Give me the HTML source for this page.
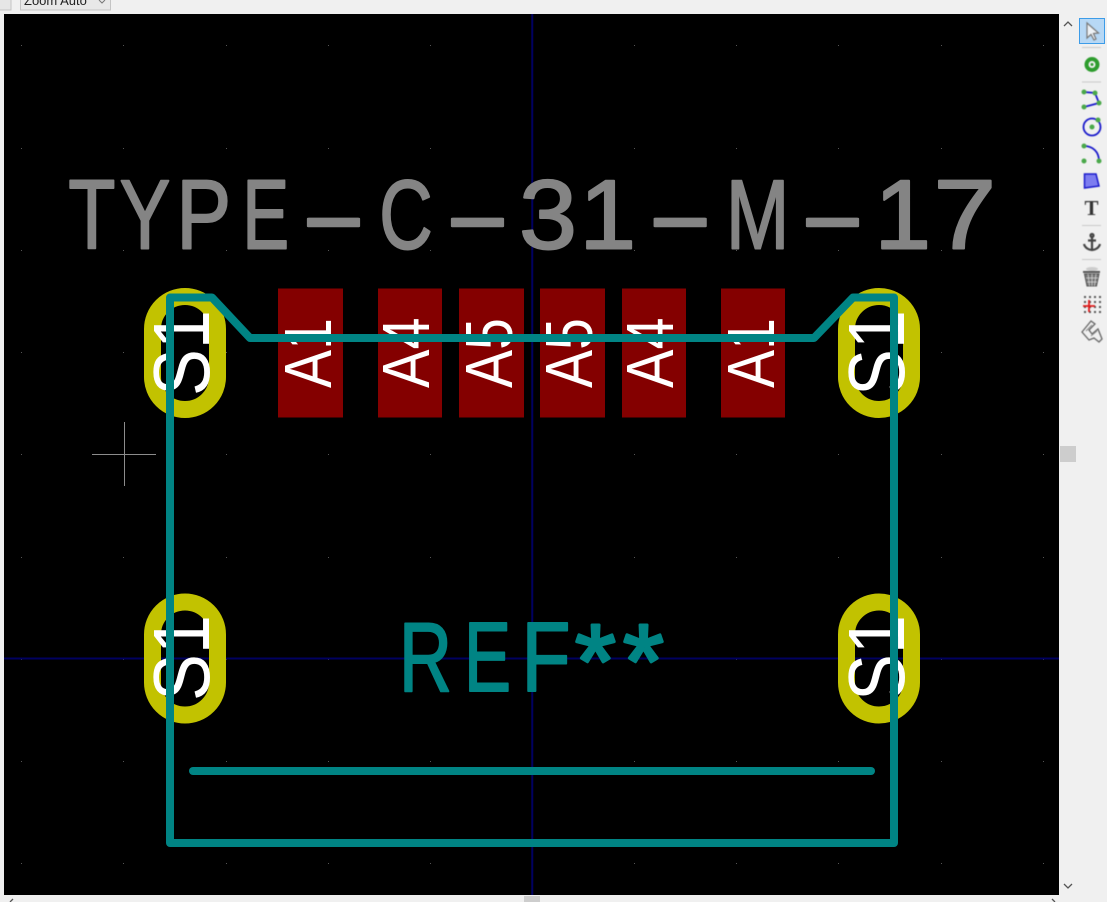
<!DOCTYPE html>
<html><head><meta charset="utf-8"><style>
html,body{margin:0;padding:0;background:#f0f0f0;width:1107px;height:902px;overflow:hidden}
svg{display:block}
.t{font-family:"Liberation Sans",sans-serif}
</style></head><body>
<svg width="1107" height="902" viewBox="0 0 1107 902" xmlns="http://www.w3.org/2000/svg">
<rect width="1107" height="902" fill="#f0f0f0"/>
<!-- top bar -->
<rect x="-4" y="-10" width="15" height="20" fill="#e6e6e6" stroke="#c4c4c4"/>
<rect x="20.500" y="-10" width="90" height="20" fill="#e8e8e8" stroke="#c4c4c4"/>
<text class="t" x="24" y="5" font-size="13" fill="#222">Zoom Auto</text>
<path d="M99 0l3 3 3-3" fill="none" stroke="#777"/>
<!-- canvas -->
<rect x="4" y="14" width="1055" height="881" fill="#000"/>
<!-- grid dots -->
<g fill="#555">
<path id="g" d="M21 45h1v1h-1zM123 45h1v1h-1zM226 45h1v1h-1zM328 45h1v1h-1zM430 45h1v1h-1zM634 45h1v1h-1zM736 45h1v1h-1zM838 45h1v1h-1zM941 45h1v1h-1zM1043 45h1v1h-1z"/>
<use href="#g" y="103"/><use href="#g" y="205"/><use href="#g" y="307"/><use href="#g" y="409"/><use href="#g" y="512"/><use href="#g" y="614"/><use href="#g" y="716"/><use href="#g" y="818"/>
</g>
<!-- axes -->
<rect x="531.250" y="14" width="2" height="881" fill="#000060"/>
<rect x="4" y="657.500" width="1055" height="2" fill="#000060"/>
<!-- cursor -->
<path d="M92 454.500H156M124.500 422V486" stroke="#8c8c8c" stroke-width="1"/>
<!-- value text -->
<g class="t" font-size="98" fill="#848484" stroke="#848484" stroke-width="2" stroke-linejoin="round">
<text x="68.400" y="248.500" textLength="47" lengthAdjust="spacingAndGlyphs">T</text>
<text x="119.600" y="248.500" textLength="50.700" lengthAdjust="spacingAndGlyphs">Y</text>
<text x="176.400" y="248.500" textLength="54.700" lengthAdjust="spacingAndGlyphs">P</text>
<text x="242.400" y="248.500" textLength="46.700" lengthAdjust="spacingAndGlyphs">E</text>
<text x="300" y="248.500" textLength="67" lengthAdjust="spacingAndGlyphs">-</text>
<text x="379.300" y="248.500" textLength="53.400" lengthAdjust="spacingAndGlyphs">C</text>
<text x="444" y="248.500" textLength="67" lengthAdjust="spacingAndGlyphs">-</text>
<text x="519" y="248.500" textLength="58" lengthAdjust="spacingAndGlyphs">3</text>
<text x="579.400" y="248.500" textLength="56.700" lengthAdjust="spacingAndGlyphs">1</text>
<text x="646.700" y="248.500" textLength="67" lengthAdjust="spacingAndGlyphs">-</text>
<text x="726" y="248.500" textLength="63.300" lengthAdjust="spacingAndGlyphs">M</text>
<text x="799" y="248.500" textLength="67" lengthAdjust="spacingAndGlyphs">-</text>
<text x="874.400" y="248.500" textLength="56.700" lengthAdjust="spacingAndGlyphs">1</text>
<text x="933.400" y="248.500" textLength="62.800" lengthAdjust="spacingAndGlyphs">7</text>
</g>
<!-- SMD pads -->
<g fill="#840000">
<rect x="278" y="288.500" width="65" height="129"/>
<rect x="378" y="288.500" width="64" height="129"/>
<rect x="459" y="288.500" width="65" height="129"/>
<rect x="540" y="288.500" width="65" height="129"/>
<rect x="622" y="288.500" width="64" height="129"/>
<rect x="721" y="288.500" width="64" height="129"/>
</g>
<g class="t" font-size="67" fill="#fff">
<text transform="translate(331 388) rotate(-90)" textLength="70" lengthAdjust="spacingAndGlyphs">A1</text>
<text transform="translate(429 388) rotate(-90)" textLength="70.500" lengthAdjust="spacingAndGlyphs">A4</text>
<text transform="translate(512 388) rotate(-90)" textLength="70" lengthAdjust="spacingAndGlyphs">A5</text>
<text transform="translate(592 388) rotate(-90)" textLength="70" lengthAdjust="spacingAndGlyphs">A5</text>
<text transform="translate(673 388) rotate(-90)" textLength="70.500" lengthAdjust="spacingAndGlyphs">A4</text>
<text transform="translate(774 388) rotate(-90)" textLength="70" lengthAdjust="spacingAndGlyphs">A1</text>
</g>
<!-- oval pads -->
<g fill="none" stroke="#c2c200" stroke-width="17">
<rect x="152.500" y="296.500" width="65" height="113" rx="32.500"/>
<rect x="846.500" y="296.500" width="65" height="113" rx="32.500"/>
<rect x="152.500" y="602" width="65" height="113" rx="32.500"/>
<rect x="846.500" y="602" width="65" height="113" rx="32.500"/>
</g>
<g class="t" font-size="80" fill="#fff">
<text transform="translate(209 396) rotate(-90)" textLength="86" lengthAdjust="spacingAndGlyphs">S1</text>
<text transform="translate(904 396) rotate(-90)" textLength="86" lengthAdjust="spacingAndGlyphs">S1</text>
<text transform="translate(209 701) rotate(-90)" textLength="86" lengthAdjust="spacingAndGlyphs">S1</text>
<text transform="translate(904 701) rotate(-90)" textLength="86" lengthAdjust="spacingAndGlyphs">S1</text>
</g>
<!-- silkscreen -->
<g fill="none" stroke="#008484" stroke-width="8" stroke-linecap="round" stroke-linejoin="round">
<path d="M250 338L212 297.500H170V843H894V297.500H853L814 338Z"/>
<path d="M193 771H871"/>
</g>
<!-- reference -->
<g class="t" font-size="98" fill="#008484" stroke="#008484" stroke-width="2" stroke-linejoin="round">
<text x="399" y="691" textLength="53" lengthAdjust="spacingAndGlyphs">R</text>
<text x="464" y="691" textLength="47" lengthAdjust="spacingAndGlyphs">E</text>
<text x="521.500" y="691" textLength="49" lengthAdjust="spacingAndGlyphs">F</text>
</g>
<g class="t" font-size="105" fill="#008484" stroke="#008484" stroke-width="3" stroke-linejoin="round">
<text x="575" y="697">*</text>
<text x="623" y="697">*</text>
</g>
<!-- scrollbars -->
<rect x="1060" y="446" width="16" height="16" fill="#cdcdcd"/>
<rect x="524" y="896" width="16" height="6" fill="#cdcdcd"/>
<path d="M1064 26l4-4 4 4M1064 884l4 4 4-4M13 899l-3 3M1052 899l3 3" fill="none" stroke="#555" stroke-width="1.300"/>
<!-- toolbar -->
<rect x="1079.500" y="18.500" width="25" height="25" fill="#b7d8f5" stroke="#3d9ce8"/>
<g style="filter:blur(.4px)">
<path d="M1087 23V38L1091 34.500L1094 40L1096 39L1093.500 33.500L1098.500 33Z" fill="#eef2f6" stroke="#777" stroke-width="1.200"/>
<path d="M1082 47.500H1101M1082 82H1101M1082 225.500H1101M1082 259.500H1101" stroke="#c8c8c8" stroke-width="1"/>
<circle cx="1092" cy="64.500" r="5.500" fill="none" stroke="#2d9c2d" stroke-width="4"/>
<circle cx="1092" cy="64.500" r="1.500" fill="#2d9c2d"/>
<path d="M1084 92L1095 93L1099 103L1084 107" fill="none" stroke="#1a1acb" stroke-width="1.800"/>
<g fill="#4aa84a"><circle cx="1084" cy="92" r="2.500"/><circle cx="1095" cy="93" r="2.500"/><circle cx="1099" cy="103" r="2.500"/><circle cx="1084" cy="107" r="2.500"/></g>
<circle cx="1092" cy="127" r="8.500" fill="none" stroke="#1a1acb" stroke-width="1.800"/>
<g fill="#4aa84a"><circle cx="1092" cy="127" r="2.500"/><circle cx="1098" cy="120" r="2.500"/></g>
<path d="M1084 146C1093 146 1099 152 1099 161" fill="none" stroke="#1a1acb" stroke-width="1.800"/>
<g fill="#4aa84a"><circle cx="1084" cy="146" r="2.500"/><circle cx="1099" cy="161" r="2.500"/><circle cx="1084" cy="161" r="2.500"/></g>
<path d="M1084.500 174H1096L1099 186L1084.500 188Z" fill="#7d7df0" stroke="#1a1acb" stroke-width="1.500"/>
<text x="1091.500" y="215" text-anchor="middle" font-family="Liberation Serif, serif" font-weight="bold" font-size="21" fill="#333">T</text>
<g fill="none" stroke="#444" stroke-width="2.200">
<circle cx="1092" cy="235.500" r="1.500"/>
<path d="M1092 238V250M1088 240.500H1096M1084 244C1085 248 1089 250 1092 250C1095 250 1099 248 1100 244"/>
</g>
<ellipse cx="1092" cy="269" rx="6" ry="2" fill="#ccc"/>
<path d="M1083 272H1100" stroke="#555" stroke-width="2"/>
<path d="M1084.500 274L1087 286H1096.500L1099 274Z" fill="#777" stroke="#555"/>
<path d="M1088 274L1089.500 286M1092 274V286M1096 274L1094.500 286M1086 278H1098M1087 282H1097" stroke="#ddd" stroke-width=".7"/>
<g fill="#555">
<path id="gd" d="M1084 296h2v2h-2zM1089 296h2v2h-2zM1094 296h2v2h-2zM1099 296h2v2h-2z"/>
<use href="#gd" y="5"/><use href="#gd" y="10"/><use href="#gd" y="15"/>
</g>
<path d="M1089 300V312M1083 306H1095" stroke="#e01818" stroke-width="1.800"/>
<path d="M1082 332L1091 321L1095 324L1089 330L1092 334L1098 329L1102 339L1099 342L1094 338L1089 340Z" fill="none" stroke="#666" stroke-width="1.300"/>
<path d="M1086 331L1092 325M1091 336L1097 331" stroke="#888" stroke-width="1"/>
</g>
</svg>
</body></html>
